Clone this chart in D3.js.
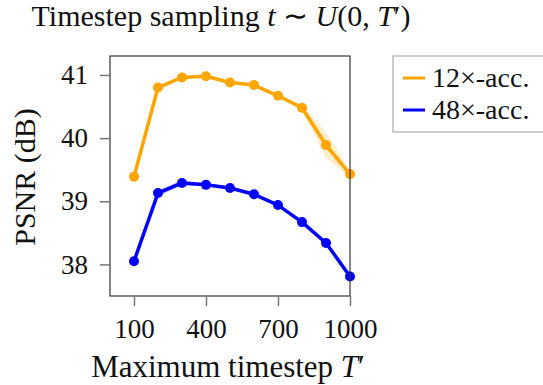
<!DOCTYPE html>
<html><head><meta charset="utf-8">
<script src="https://cdn.jsdelivr.net/npm/d3@7"></script>
<style>body{margin:0;background:#fff}svg{display:block}text{font-family:"Liberation Serif","Times New Roman",serif;fill:#111}</style>
</head><body><svg id="c" width="543" height="385"></svg>
<script>
const timesteps = [100,200,300,400,500,600,700,800,900,1000];
const acc12 = [39.39,40.80,40.96,40.98,40.88,40.84,40.67,40.48,39.89,39.43];
const acc12Std = [0.02,0.02,0.02,0.02,0.02,0.02,0.03,0.04,0.2,0.05];
const acc48 = [38.05,39.13,39.29,39.26,39.21,39.11,38.94,38.67,38.34,37.81];
const acc48Std = [0.06,0.05,0.04,0.02,0.02,0.02,0.02,0.03,0.04,0.02];
const xTicks = [100,400,700,1000];
const yTicks = [38,39,40,41];
const seriesNames = ["12×-acc.","48×-acc."];
const colors = ["#FFA500","#0000FF"];

const FONT = '"Liberation Serif","Times New Roman",serif';
const svg = d3.select("#c");
const L=110,R=350,T=56,B=296;
const x = d3.scaleLinear().domain([0,1000]).range([L,R]);
const y = d3.scaleLinear().domain([37.5,41.3]).range([B,T]);

const series = [
 {name:seriesNames[0],vals:acc12,std:acc12Std,color:colors[0]},
 {name:seriesNames[1],vals:acc48,std:acc48Std,color:colors[1]}
];

const area = d3.area().x(d=>x(d.t)).y0(d=>y(d.v-d.s)).y1(d=>y(d.v+d.s));
const line = d3.line().x(d=>x(d.t)).y(d=>y(d.v));

series.forEach(s=>{
  const pts = timesteps.map((t,i)=>({t,v:s.vals[i],s:s.std[i]}));
  svg.append("path").attr("d",area(pts)).attr("fill",s.color).attr("fill-opacity",0.2);
});
series.forEach(s=>{
  const pts = timesteps.map((t,i)=>({t,v:s.vals[i],s:s.std[i]}));
  svg.append("path").attr("d",line(pts)).attr("fill","none").attr("stroke",s.color).attr("stroke-width",3.5).attr("stroke-linejoin","round");
  svg.selectAll(null).data(pts).enter().append("circle")
    .attr("cx",d=>x(d.t)).attr("cy",d=>y(d.v)).attr("r",5).attr("fill",s.color);
});

// frame
svg.append("rect").attr("x",L).attr("y",T).attr("width",R-L).attr("height",B-T)
  .attr("fill","none").attr("stroke","#333").attr("stroke-width",1.2);

const xa = svg.append("g").attr("transform",`translate(0,${B})`)
  .call(d3.axisBottom(x).tickValues(xTicks).tickSize(10).tickPadding(13).tickFormat(d3.format("d")));
const ya = svg.append("g").attr("transform",`translate(${L},0)`)
  .call(d3.axisLeft(y).tickValues(yTicks).tickSize(10).tickPadding(12).tickFormat(d3.format("d")));
[xa,ya].forEach(a=>{
  a.select(".domain").remove();
  a.selectAll(".tick line").attr("stroke","#777").attr("stroke-width",1.5);
  a.selectAll(".tick text").style("font-family",FONT).style("font-size","27px").attr("fill","#111");
});

// title
const title = svg.append("text").attr("x",221).attr("y",26).attr("text-anchor","middle").style("font-family",FONT).style("font-size","30px");
title.append("tspan").text("Timestep sampling ");
title.append("tspan").style("font-style","italic").text("t");
title.append("tspan").text(" ∼ ");
title.append("tspan").style("font-style","italic").text("U");
title.append("tspan").text("(0, ");
title.append("tspan").style("font-style","italic").text("T");
title.append("tspan").text("′)");

// x label
const xl = svg.append("text").attr("x",228).attr("y",377).attr("text-anchor","middle").style("font-family",FONT).style("font-size","31px");
xl.append("tspan").text("Maximum timestep ");
xl.append("tspan").style("font-style","italic").text("T");
xl.append("tspan").text("′");

// y label
svg.append("text").attr("transform","translate(35,177) rotate(-90)").attr("text-anchor","middle").style("font-family",FONT).style("font-size","30px").text("PSNR (dB)");

// legend
svg.append("rect").attr("x",393).attr("y",56).attr("width",170).attr("height",76)
  .attr("fill","#fff").attr("stroke","#aaa").attr("stroke-width",1.2);
series.forEach((s,i)=>{
  const yy = 78 + i*32;
  svg.append("line").attr("x1",403).attr("x2",425).attr("y1",yy).attr("y2",yy).attr("stroke",s.color).attr("stroke-width",3);
  svg.append("text").attr("x",432).attr("y",yy+9).style("font-family",FONT).style("font-size","28px").text(s.name);
});
</script></body></html>
